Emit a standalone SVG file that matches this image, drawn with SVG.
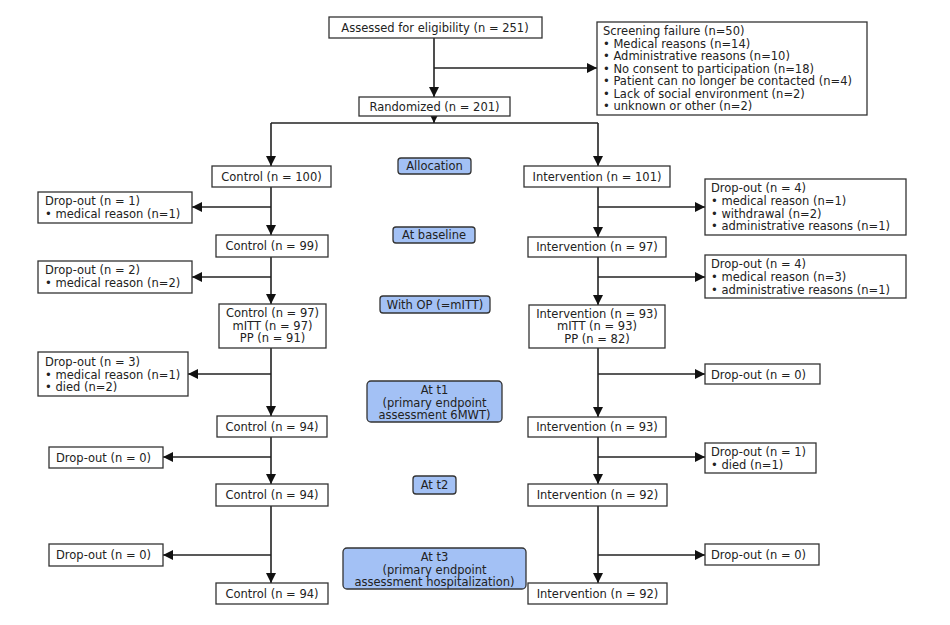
<svg xmlns="http://www.w3.org/2000/svg" width="950" height="625" viewBox="0 0 950 625">
<style>
.box{fill:#fff;stroke:#333;stroke-width:1.3}
.lbl{fill:#a3c1f5;stroke:#333;stroke-width:1.3}
text{font-family:"DejaVu Sans",Verdana,sans-serif;font-size:11.5px;fill:#222}
.c{text-anchor:middle}
.ln{stroke:#222;stroke-width:1.6;fill:none}
.ar{stroke:#222;stroke-width:1.6;fill:none;marker-end:url(#ah)}
</style>
<defs>
<marker id="ah" markerUnits="userSpaceOnUse" markerWidth="10" markerHeight="10" viewBox="0 0 10 10" refX="10" refY="5" orient="auto">
<path d="M0,0 L10,5 L0,10 z" fill="#111"/>
</marker>
</defs>
<rect width="950" height="625" fill="#fff"/>
<g id="connectors">
<path class="ar" d="M434,38 V97"/>
<path class="ar" d="M434,68 H597"/>
<path class="ar" d="M434,115 V123"/>
<path class="ln" d="M271,123 H598"/>
<path class="ar" d="M271,123 V166"/>
<path class="ar" d="M598,123 V166"/>
<path class="ar" d="M271,187 V235"/>
<path class="ar" d="M271,207 H192"/>
<path class="ar" d="M271,257 V304"/>
<path class="ar" d="M271,277 H192"/>
<path class="ar" d="M271,348 V416"/>
<path class="ar" d="M271,374 H188"/>
<path class="ar" d="M271,437 V484"/>
<path class="ar" d="M271,457 H163"/>
<path class="ar" d="M271,506 V583"/>
<path class="ar" d="M271,555 H163"/>
<path class="ar" d="M598,187 V237"/>
<path class="ar" d="M598,207 H705"/>
<path class="ar" d="M598,257 V305"/>
<path class="ar" d="M598,277 H705"/>
<path class="ar" d="M598,348 V417"/>
<path class="ar" d="M598,374 H705"/>
<path class="ar" d="M598,437 V484"/>
<path class="ar" d="M598,457 H705"/>
<path class="ar" d="M598,506 V583"/>
<path class="ar" d="M598,555 H705"/>
</g>
<g id="assessed"><rect class="box" x="329" y="17" width="213" height="21"/><text class="c" x="435" y="32">Assessed for eligibility (n = 251)</text></g>
<g id="screening"><rect class="box" x="597" y="22" width="270" height="93"/>
<text x="603" y="35">Screening failure (n=50)</text>
<text x="603" y="47.5">• Medical reasons (n=14)</text>
<text x="603" y="60">• Administrative reasons (n=10)</text>
<text x="603" y="72.5">• No consent to participation (n=18)</text>
<text x="603" y="85">• Patient can no longer be contacted (n=4)</text>
<text x="603" y="97.5">• Lack of social environment (n=2)</text>
<text x="603" y="110">• unknown or other (n=2)</text></g>
<g id="randomized"><rect class="box" x="359" y="97" width="151" height="19"/><text class="c" x="434.5" y="111">Randomized (n = 201)</text></g>
<g id="allocation"><rect class="lbl" x="398" y="158" width="73" height="16" rx="3"/><text class="c" x="434.5" y="170">Allocation</text></g>
<g id="baseline"><rect class="lbl" x="393" y="227" width="82" height="16" rx="3"/><text class="c" x="434" y="239">At baseline</text></g>
<g id="withop"><rect class="lbl" x="380" y="296" width="110" height="17" rx="3"/><text class="c" x="435" y="309">With OP (=mITT)</text></g>
<g id="t1"><rect class="lbl" x="367" y="381" width="135" height="41" rx="4"/><text class="c" x="434.5" y="394">At t1</text><text class="c" x="434.5" y="406.5">(primary endpoint</text><text class="c" x="434.5" y="419">assessment 6MWT)</text></g>
<g id="t2"><rect class="lbl" x="413" y="476" width="43" height="18" rx="3"/><text class="c" x="434.5" y="489">At t2</text></g>
<g id="t3"><rect class="lbl" x="343" y="548" width="183" height="41" rx="4"/><text class="c" x="434.5" y="561">At t3</text><text class="c" x="434.5" y="573.5">(primary endpoint</text><text class="c" x="434.5" y="586">assessment hospitalization)</text></g>

<g id="control100"><rect class="box" x="212" y="166" width="119" height="21"/><text class="c" x="271.5" y="181">Control (n = 100)</text></g>
<g id="drop1"><rect class="box" x="38" y="192" width="154" height="31"/><text x="45" y="205">Drop-out (n = 1)</text><text x="45" y="218">• medical reason (n=1)</text></g>
<g id="control99"><rect class="box" x="216" y="235" width="112" height="22"/><text class="c" x="272" y="250">Control (n = 99)</text></g>
<g id="drop2"><rect class="box" x="38" y="261" width="154" height="32"/><text x="45" y="274">Drop-out (n = 2)</text><text x="45" y="287">• medical reason (n=2)</text></g>
<g id="control97"><rect class="box" x="219" y="304" width="107" height="44"/><text class="c" x="272.5" y="317">Control (n = 97)</text><text class="c" x="272.5" y="329.5">mITT (n = 97)</text><text class="c" x="272.5" y="342">PP (n = 91)</text></g>
<g id="drop3"><rect class="box" x="38" y="352" width="150" height="44"/><text x="45" y="366">Drop-out (n = 3)</text><text x="45" y="378.5">• medical reason (n=1)</text><text x="45" y="391">• died (n=2)</text></g>
<g id="control94a"><rect class="box" x="217" y="416" width="110" height="21"/><text class="c" x="272" y="431">Control (n = 94)</text></g>
<g id="drop4l"><rect class="box" x="49" y="447" width="114" height="21"/><text x="56" y="462">Drop-out (n = 0)</text></g>
<g id="control94b"><rect class="box" x="216" y="484" width="112" height="22"/><text class="c" x="272" y="499">Control (n = 94)</text></g>
<g id="drop5l"><rect class="box" x="49" y="544" width="114" height="22"/><text x="56" y="559">Drop-out (n = 0)</text></g>
<g id="control94c"><rect class="box" x="216" y="583" width="112" height="21"/><text class="c" x="272" y="598">Control (n = 94)</text></g>

<g id="int101"><rect class="box" x="524" y="166" width="146" height="21"/><text class="c" x="597" y="181">Intervention (n = 101)</text></g>
<g id="drop1r"><rect class="box" x="705" y="179" width="201" height="56"/><text x="711" y="192">Drop-out (n = 4)</text><text x="711" y="205">• medical reason (n=1)</text><text x="711" y="217.5">• withdrawal (n=2)</text><text x="711" y="230">• administrative reasons (n=1)</text></g>
<g id="int97"><rect class="box" x="528" y="237" width="138" height="20"/><text class="c" x="597" y="251">Intervention (n = 97)</text></g>
<g id="drop2r"><rect class="box" x="705" y="255" width="201" height="43"/><text x="711" y="268">Drop-out (n = 4)</text><text x="711" y="281">• medical reason (n=3)</text><text x="711" y="293.5">• administrative reasons (n=1)</text></g>
<g id="int93a"><rect class="box" x="529" y="305" width="136" height="43"/><text class="c" x="597" y="317.5">Intervention (n = 93)</text><text class="c" x="597" y="330">mITT (n = 93)</text><text class="c" x="597" y="342.5">PP (n = 82)</text></g>
<g id="drop3r"><rect class="box" x="705" y="364" width="115" height="20"/><text x="711" y="378.5">Drop-out (n = 0)</text></g>
<g id="int93b"><rect class="box" x="528" y="417" width="138" height="20"/><text class="c" x="597" y="431">Intervention (n = 93)</text></g>
<g id="drop4r"><rect class="box" x="705" y="443" width="111" height="30"/><text x="711" y="456">Drop-out (n = 1)</text><text x="711" y="468.5">• died (n=1)</text></g>
<g id="int92a"><rect class="box" x="528" y="484" width="139" height="22"/><text class="c" x="597.5" y="499">Intervention (n = 92)</text></g>
<g id="drop5r"><rect class="box" x="705" y="544" width="114" height="21"/><text x="711" y="559">Drop-out (n = 0)</text></g>
<g id="int92b"><rect class="box" x="528" y="583" width="139" height="21"/><text class="c" x="597.5" y="598">Intervention (n = 92)</text></g>
</svg>
